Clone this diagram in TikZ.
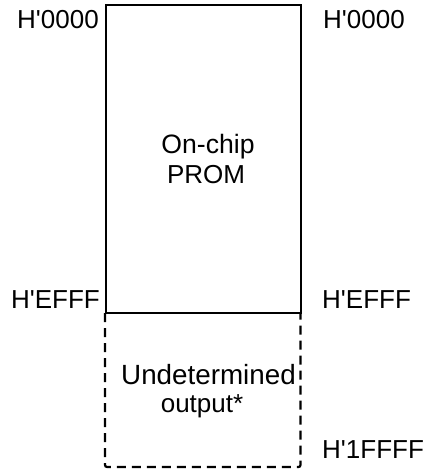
\documentclass[tikz,border=0pt]{standalone}
\usepackage{fontspec}
\setmainfont{Liberation Sans}
\begin{document}
\begin{tikzpicture}[x=1pt,y=-1pt,
  lbl/.style={inner sep=0pt, font=\fontsize{26}{30}\selectfont},
  big/.style={inner sep=0pt, font=\fontsize{27.8}{30}\selectfont},
  box/.style={draw, line width=2.2pt, inner sep=0pt}]
\useasboundingbox (0,0) rectangle (426,472);
% solid PROM box
\node[box, minimum width=195pt, minimum height=308pt] (prom) at (203.5,159) {};
% dashed undetermined region
\coordinate (ul) at (105,313);
\coordinate (ur) at (300.5,313);
\draw[line width=2.2pt, dash pattern=on 9pt off 6pt, rounded corners=2pt]
  (ul) -- (105,467) -- (300.5,467) -- (ur);
% inner texts
\node[lbl, font=\fontsize{26.6}{30}\selectfont, anchor=base] (chip) at (208,153) {On-chip};
\node[lbl, anchor=base] (prm) at (206,183) {PROM};
\begin{scope}
  \clip (110,340) rectangle (293,400);
  \node[big, anchor=base west] (und) at (121,384) {Undetermined};
\end{scope}
\node[lbl, anchor=base] (outp) at (202,412) {output*};
% address labels
\node[lbl, anchor=base west] (l0) at (17,28) {H\textquotesingle 0000};
\node[lbl, anchor=base west] (r0) at (323,28) {H\textquotesingle 0000};
\node[lbl, anchor=base east] (le) at (100,308) {H\textquotesingle EFFF};
\node[lbl, anchor=base west] (re) at (322,308) {H\textquotesingle EFFF};
\node[lbl, anchor=base west] (r1) at (322,458) {H\textquotesingle 1FFFF};
\end{tikzpicture}
\end{document}
